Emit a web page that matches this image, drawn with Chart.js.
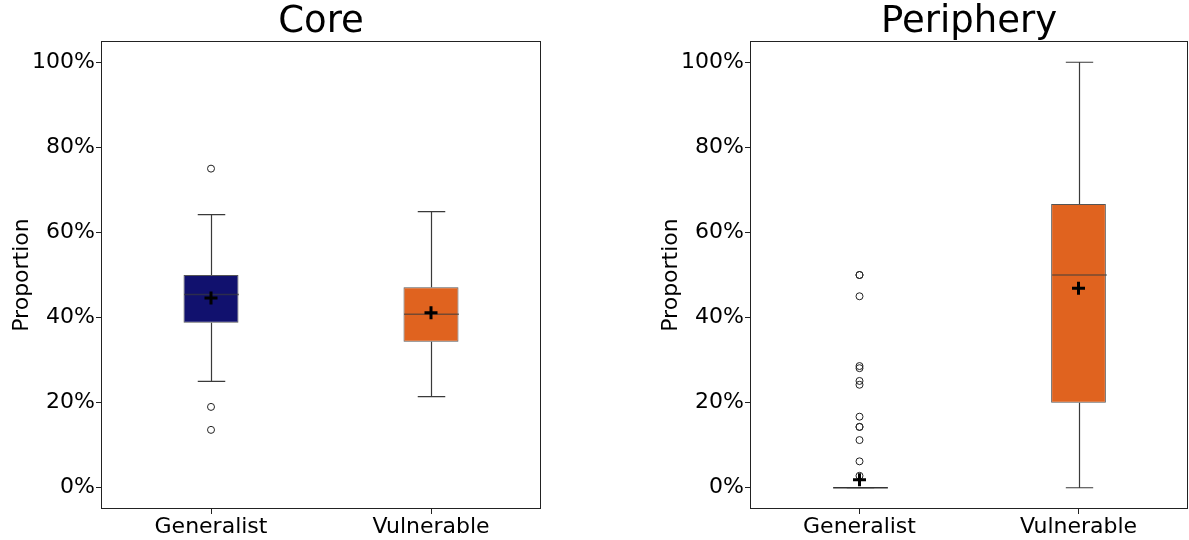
<!DOCTYPE html>
<html>
<head>
<meta charset="utf-8">
<script src="https://cdn.jsdelivr.net/npm/chart.js@4/dist/chart.umd.min.js"></script>
<style>
  body { margin: 0; background: #fff; }
  .wrap { position: absolute; top: 0; height: 540px; }
</style>
</head>
<body>
<div class="wrap" style="left:0; width:542px;"><canvas id="coreChart"></canvas></div>
<div class="wrap" style="left:649px; width:540px;"><canvas id="peripheryChart"></canvas></div>
<script>
// categories and tick labels
const categories = ["Generalist", "Vulnerable"];
const yTicks = [0, 20, 40, 60, 80, 100];

// Core (values in %)
const coreQ1 = [38.8, 34.3];
const coreQ3 = [50.0, 47.1];
const coreMedian = [45.4, 40.8];
const coreWhiskerLow = [25.0, 21.4];
const coreWhiskerHigh = [64.2, 64.9];
const coreMean = [44.6, 41.1];
const coreOutliersGeneralist = [75.0, 19.0, 13.6];
const coreOutliersVulnerable = [];

// Periphery (values in %)
const periQ1 = [0, 20.0];
const periQ3 = [0, 66.7];
const periMedian = [0, 50.0];
const periWhiskerLow = [0, 0];
const periWhiskerHigh = [0, 100];
const periMean = [1.9, 46.9];
const periOutliersGeneralist = [50.0, 50.0, 45.0, 28.6, 28.1, 25.1, 24.2, 16.7, 14.3, 14.3, 11.2, 6.2, 2.8];
const periOutliersVulnerable = [];

const boxColors = ["#11116e", "#e0631f"];
const FONT = "'DejaVu Sans', sans-serif";

// whiskers, caps and medians drawn right after the boxes
function boxLines(low, high, median) {
  return {
    id: "boxLines",
    afterDatasetDraw(chart, args) {
      if (args.index !== 0) return;
      const ctx = chart.ctx;
      const x = chart.scales.x;
      const y = chart.scales.y;
      const bars = chart.getDatasetMeta(0).data;
      ctx.save();
      ctx.lineWidth = 1.2;
      bars.forEach((bar, i) => {
        const cx = Math.round(x.getPixelForValue(i)) + 0.5;
        const half = bar.width / 2;
        const yLow = y.getPixelForValue(low[i]);
        const yHigh = y.getPixelForValue(high[i]);
        const yQ1 = bar.base;
        const yQ3 = bar.y;
        ctx.strokeStyle = "#3a3a3a";
        ctx.beginPath();
        ctx.moveTo(cx, Math.max(yQ1, yQ3)); ctx.lineTo(cx, yLow);
        ctx.moveTo(cx, Math.min(yQ1, yQ3)); ctx.lineTo(cx, yHigh);
        ctx.moveTo(cx - half / 2, yLow); ctx.lineTo(cx + half / 2, yLow);
        ctx.moveTo(cx - half / 2, yHigh); ctx.lineTo(cx + half / 2, yHigh);
        ctx.stroke();
        const ym = y.getPixelForValue(median[i]);
        ctx.strokeStyle = median[i] === low[i] ? "#333" : "rgba(60,60,60,0.65)";
        ctx.lineWidth = 1.5;
        ctx.beginPath();
        ctx.moveTo(cx - half, ym); ctx.lineTo(cx + half, ym);
        ctx.stroke();
        ctx.lineWidth = 1.2;
      });
      ctx.restore();
    },
    afterDraw(chart) {
      // frame round the plot area
      const a = chart.chartArea;
      const ctx = chart.ctx;
      ctx.save();
      ctx.strokeStyle = "#222";
      ctx.lineWidth = 1;
      ctx.strokeRect(a.left + 0.5, a.top + 0.5, a.right - a.left - 1, a.bottom - a.top - 1);
      ctx.restore();
    }
  };
}

function makeChart(id, title, q1, q3, median, low, high, mean, outliers) {
  const outlierPoints = [];
  outliers.forEach((list, i) => list.forEach(v => outlierPoints.push({ x: categories[i], y: v })));

  new Chart(document.getElementById(id), {
    type: "bar",
    data: {
      labels: categories,
      datasets: [
        {
          label: "box",
          data: categories.map((c, i) => [q1[i], q3[i]]),
          backgroundColor: boxColors,
          borderColor: "#555",
          borderWidth: 1,
          borderSkipped: false,
          barPercentage: 0.25,
          categoryPercentage: 1,
          order: 3
        },
        {
          type: "scatter",
          label: "outliers",
          data: outlierPoints,
          pointStyle: "circle",
          pointRadius: 3.5,
          backgroundColor: "rgba(0,0,0,0)",
          borderColor: "#222",
          borderWidth: 1,
          clip: false,
          order: 2
        },
        {
          type: "scatter",
          label: "mean",
          data: categories.map((c, i) => ({ x: c, y: mean[i] })),
          pointStyle: "cross",
          pointRadius: 6.5,
          borderColor: "#000",
          borderWidth: 3,
          clip: false,
          order: 1
        }
      ]
    },
    options: {
      responsive: true,
      maintainAspectRatio: false,
      animation: false,
      events: [],
      layout: { autoPadding: false, padding: { left: 0, right: 1, top: 0, bottom: 0 } },
      plugins: {
        legend: { display: false },
        tooltip: { enabled: false },
        title: {
          display: true,
          text: title,
          fullSize: false,
          color: "#000",
          font: { family: FONT, size: 37, weight: "normal", lineHeight: 1 },
          padding: { top: 4, bottom: 0 }
        }
      },
      scales: {
        x: {
          type: "category",
          offset: true,
          border: { display: false },
          grid: { display: true, offset: false, drawOnChartArea: false, drawTicks: true, tickLength: 5, color: "#222" },
          ticks: { color: "#000", padding: 0, font: { family: FONT, size: 22 } },
          afterFit(scale) {
            scale.height = 31;
            scale.paddingLeft = 0;
            scale.paddingRight = 0;
          }
        },
        y: {
          type: "linear",
          min: -5,
          max: 105,
          border: { display: false },
          grid: { display: true, drawOnChartArea: false, drawTicks: true, tickLength: 5, color: "#222" },
          afterBuildTicks(scale) { scale.ticks = yTicks.map(v => ({ value: v })); },
          ticks: {
            color: "#000",
            padding: 1,
            font: { family: FONT, size: 22 },
            callback: v => v + "%"
          },
          title: {
            display: true,
            text: "Proportion",
            color: "#000",
            font: { family: FONT, size: 22 },
            padding: { top: 9, bottom: 0 }
          },
          afterFit(scale) {
            scale.width = 101;
            scale.paddingTop = 0;
            scale.paddingBottom = 0;
          }
        }
      }
    },
    plugins: [boxLines(low, high, median)]
  });
}

document.addEventListener("DOMContentLoaded", () => {
  makeChart("coreChart", "Core", coreQ1, coreQ3, coreMedian, coreWhiskerLow, coreWhiskerHigh, coreMean,
    [coreOutliersGeneralist, coreOutliersVulnerable]);
  makeChart("peripheryChart", "Periphery", periQ1, periQ3, periMedian, periWhiskerLow, periWhiskerHigh, periMean,
    [periOutliersGeneralist, periOutliersVulnerable]);
});
</script>
</body>
</html>
